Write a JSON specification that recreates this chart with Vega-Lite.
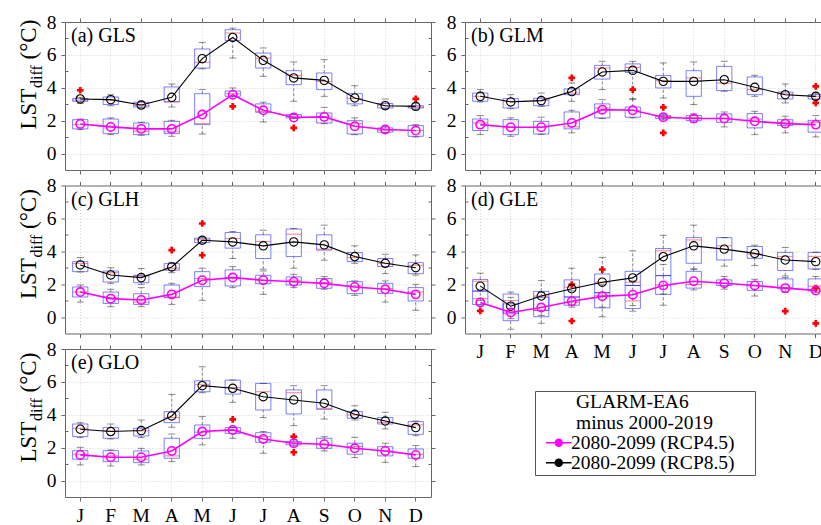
{
"$schema": "https://vega.github.io/schema/vega-lite/v6.json",
"padding": {"left": 16, "top": 11, "right": 0, "bottom": 0},
"background": "white",
"columns": 2,
"spacing": {"row": 15.5, "column": 34},
"bounds": "flush",
"resolve": {"legend": {"color": "independent"}},
"datasets": {
"box": [
{"p":"a","k":"2080-2099 (RCP8.5)","m":1,"q1":3.18,"q3":3.35,"md":3.25,"lo":3.05,"hi":3.42,"mn":3.32},
{"p":"a","k":"2080-2099 (RCP8.5)","m":2,"q1":2.98,"q3":3.44,"md":3.25,"lo":2.91,"hi":3.58,"mn":3.28},
{"p":"a","k":"2080-2099 (RCP8.5)","m":3,"q1":2.83,"q3":3.12,"md":2.92,"lo":2.77,"hi":3.18,"mn":2.95},
{"p":"a","k":"2080-2099 (RCP8.5)","m":4,"q1":3.14,"q3":4.05,"md":3.15,"lo":2.83,"hi":4.23,"mn":3.42},
{"p":"a","k":"2080-2099 (RCP8.5)","m":5,"q1":5.2,"q3":6.36,"md":5.55,"lo":5.15,"hi":6.76,"mn":5.77},
{"p":"a","k":"2080-2099 (RCP8.5)","m":6,"q1":6.88,"q3":7.53,"md":7.33,"lo":5.81,"hi":7.63,"mn":7.06},
{"p":"a","k":"2080-2099 (RCP8.5)","m":7,"q1":5.2,"q3":6.11,"md":5.81,"lo":4.7,"hi":6.42,"mn":5.67},
{"p":"a","k":"2080-2099 (RCP8.5)","m":8,"q1":4.19,"q3":5.04,"md":4.74,"lo":3.18,"hi":5.57,"mn":4.6},
{"p":"a","k":"2080-2099 (RCP8.5)","m":9,"q1":3.89,"q3":4.9,"md":4.39,"lo":3.48,"hi":5.71,"mn":4.45},
{"p":"a","k":"2080-2099 (RCP8.5)","m":10,"q1":3.02,"q3":3.64,"md":3.34,"lo":2.91,"hi":4.13,"mn":3.38},
{"p":"a","k":"2080-2099 (RCP8.5)","m":11,"q1":2.77,"q3":3.04,"md":2.91,"lo":2.73,"hi":3.32,"mn":2.91},
{"p":"a","k":"2080-2099 (RCP8.5)","m":12,"q1":2.77,"q3":2.91,"md":2.83,"lo":2.67,"hi":3.04,"mn":2.87},
{"p":"a","k":"2080-2099 (RCP4.5)","m":1,"q1":1.5,"q3":2.06,"md":1.76,"lo":1.46,"hi":2.1,"mn":1.8},
{"p":"a","k":"2080-2099 (RCP4.5)","m":2,"q1":1.21,"q3":2.1,"md":1.66,"lo":1.15,"hi":2.17,"mn":1.62},
{"p":"a","k":"2080-2099 (RCP4.5)","m":3,"q1":1.15,"q3":1.86,"md":1.36,"lo":1.11,"hi":1.9,"mn":1.5},
{"p":"a","k":"2080-2099 (RCP4.5)","m":4,"q1":1.21,"q3":1.96,"md":1.32,"lo":1.05,"hi":2.02,"mn":1.5},
{"p":"a","k":"2080-2099 (RCP4.5)","m":5,"q1":1.76,"q3":3.64,"md":1.82,"lo":1.19,"hi":3.89,"mn":2.37},
{"p":"a","k":"2080-2099 (RCP4.5)","m":6,"q1":3.48,"q3":3.8,"md":3.64,"lo":3.45,"hi":3.99,"mn":3.58},
{"p":"a","k":"2080-2099 (RCP4.5)","m":7,"q1":2.51,"q3":3.02,"md":2.57,"lo":1.92,"hi":3.12,"mn":2.63},
{"p":"a","k":"2080-2099 (RCP4.5)","m":8,"q1":2.17,"q3":2.37,"md":2.27,"lo":2.13,"hi":2.41,"mn":2.19},
{"p":"a","k":"2080-2099 (RCP4.5)","m":9,"q1":1.86,"q3":2.47,"md":2.23,"lo":1.82,"hi":2.81,"mn":2.23},
{"p":"a","k":"2080-2099 (RCP4.5)","m":10,"q1":1.19,"q3":2.0,"md":1.82,"lo":1.15,"hi":2.17,"mn":1.66},
{"p":"a","k":"2080-2099 (RCP4.5)","m":11,"q1":1.3,"q3":1.56,"md":1.42,"lo":1.26,"hi":1.66,"mn":1.46},
{"p":"a","k":"2080-2099 (RCP4.5)","m":12,"q1":1.05,"q3":1.7,"md":1.4,"lo":1.01,"hi":1.76,"mn":1.4},
{"p":"b","k":"2080-2099 (RCP8.5)","m":1,"q1":3.18,"q3":3.68,"md":3.48,"lo":3.14,"hi":3.89,"mn":3.48},
{"p":"b","k":"2080-2099 (RCP8.5)","m":2,"q1":2.77,"q3":3.34,"md":3.18,"lo":2.73,"hi":3.58,"mn":3.14},
{"p":"b","k":"2080-2099 (RCP8.5)","m":3,"q1":2.91,"q3":3.36,"md":3.22,"lo":2.87,"hi":3.68,"mn":3.22},
{"p":"b","k":"2080-2099 (RCP8.5)","m":4,"q1":3.58,"q3":3.93,"md":3.68,"lo":3.18,"hi":4.29,"mn":3.77},
{"p":"b","k":"2080-2099 (RCP8.5)","m":5,"q1":4.53,"q3":5.36,"md":5.2,"lo":3.89,"hi":5.61,"mn":4.96},
{"p":"b","k":"2080-2099 (RCP8.5)","m":6,"q1":4.94,"q3":5.45,"md":5.24,"lo":3.28,"hi":5.61,"mn":5.06},
{"p":"b","k":"2080-2099 (RCP8.5)","m":7,"q1":3.99,"q3":4.74,"md":4.43,"lo":3.38,"hi":5.51,"mn":4.39},
{"p":"b","k":"2080-2099 (RCP8.5)","m":8,"q1":3.48,"q3":5.04,"md":4.6,"lo":2.98,"hi":5.57,"mn":4.39},
{"p":"b","k":"2080-2099 (RCP8.5)","m":9,"q1":3.83,"q3":5.3,"md":4.29,"lo":3.79,"hi":5.61,"mn":4.49},
{"p":"b","k":"2080-2099 (RCP8.5)","m":10,"q1":3.58,"q3":4.66,"md":3.89,"lo":3.48,"hi":4.76,"mn":4.03},
{"p":"b","k":"2080-2099 (RCP8.5)","m":11,"q1":3.32,"q3":3.74,"md":3.62,"lo":3.08,"hi":4.23,"mn":3.58},
{"p":"b","k":"2080-2099 (RCP8.5)","m":12,"q1":3.32,"q3":3.58,"md":3.48,"lo":3.28,"hi":3.68,"mn":3.48},
{"p":"b","k":"2080-2099 (RCP4.5)","m":1,"q1":1.4,"q3":2.1,"md":1.86,"lo":1.15,"hi":2.31,"mn":1.76},
{"p":"b","k":"2080-2099 (RCP4.5)","m":2,"q1":1.15,"q3":2.06,"md":1.6,"lo":1.05,"hi":2.17,"mn":1.6},
{"p":"b","k":"2080-2099 (RCP4.5)","m":3,"q1":1.19,"q3":1.96,"md":1.6,"lo":1.17,"hi":2.21,"mn":1.6},
{"p":"b","k":"2080-2099 (RCP4.5)","m":4,"q1":1.5,"q3":2.53,"md":1.62,"lo":1.26,"hi":2.63,"mn":1.86},
{"p":"b","k":"2080-2099 (RCP4.5)","m":5,"q1":2.17,"q3":3.02,"md":2.77,"lo":2.13,"hi":3.28,"mn":2.67},
{"p":"b","k":"2080-2099 (RCP4.5)","m":6,"q1":2.21,"q3":2.83,"md":2.63,"lo":2.17,"hi":3.34,"mn":2.63},
{"p":"b","k":"2080-2099 (RCP4.5)","m":7,"q1":2.13,"q3":2.31,"md":2.25,"lo":2.06,"hi":2.37,"mn":2.21},
{"p":"b","k":"2080-2099 (RCP4.5)","m":8,"q1":2.0,"q3":2.31,"md":2.19,"lo":1.9,"hi":2.41,"mn":2.13},
{"p":"b","k":"2080-2099 (RCP4.5)","m":9,"q1":1.9,"q3":2.41,"md":2.15,"lo":1.62,"hi":2.53,"mn":2.13},
{"p":"b","k":"2080-2099 (RCP4.5)","m":10,"q1":1.56,"q3":2.43,"md":2.1,"lo":1.15,"hi":2.57,"mn":1.96},
{"p":"b","k":"2080-2099 (RCP4.5)","m":11,"q1":1.7,"q3":2.06,"md":1.9,"lo":1.26,"hi":2.27,"mn":1.82},
{"p":"b","k":"2080-2099 (RCP4.5)","m":12,"q1":1.3,"q3":2.02,"md":1.9,"lo":1.01,"hi":2.31,"mn":1.76},
{"p":"c","k":"2080-2099 (RCP8.5)","m":1,"q1":2.76,"q3":3.37,"md":3.25,"lo":2.74,"hi":3.62,"mn":3.17},
{"p":"c","k":"2080-2099 (RCP8.5)","m":2,"q1":2.13,"q3":2.8,"md":2.7,"lo":2.05,"hi":3.0,"mn":2.56},
{"p":"c","k":"2080-2099 (RCP8.5)","m":3,"q1":2.09,"q3":2.54,"md":2.5,"lo":1.99,"hi":2.95,"mn":2.4},
{"p":"c","k":"2080-2099 (RCP8.5)","m":4,"q1":2.85,"q3":3.25,"md":2.97,"lo":2.7,"hi":3.31,"mn":3.05},
{"p":"c","k":"2080-2099 (RCP8.5)","m":5,"q1":4.53,"q3":4.8,"md":4.7,"lo":4.5,"hi":4.82,"mn":4.67},
{"p":"c","k":"2080-2099 (RCP8.5)","m":6,"q1":4.19,"q3":5.14,"md":4.78,"lo":3.56,"hi":5.2,"mn":4.57},
{"p":"c","k":"2080-2099 (RCP8.5)","m":7,"q1":3.56,"q3":5.0,"md":4.59,"lo":2.91,"hi":5.28,"mn":4.33},
{"p":"c","k":"2080-2099 (RCP8.5)","m":8,"q1":3.68,"q3":5.35,"md":5.04,"lo":2.97,"hi":5.39,"mn":4.57},
{"p":"c","k":"2080-2099 (RCP8.5)","m":9,"q1":4.07,"q3":5.0,"md":4.13,"lo":3.46,"hi":5.59,"mn":4.39},
{"p":"c","k":"2080-2099 (RCP8.5)","m":10,"q1":3.37,"q3":3.92,"md":3.62,"lo":3.27,"hi":4.33,"mn":3.68},
{"p":"c","k":"2080-2099 (RCP8.5)","m":11,"q1":3.07,"q3":3.56,"md":3.27,"lo":2.64,"hi":3.82,"mn":3.27},
{"p":"c","k":"2080-2099 (RCP8.5)","m":12,"q1":2.64,"q3":3.31,"md":3.15,"lo":2.55,"hi":3.78,"mn":3.0},
{"p":"c","k":"2080-2099 (RCP4.5)","m":1,"q1":1.22,"q3":1.83,"md":1.52,"lo":0.91,"hi":1.95,"mn":1.52},
{"p":"c","k":"2080-2099 (RCP4.5)","m":2,"q1":0.83,"q3":1.52,"md":1.18,"lo":0.63,"hi":1.69,"mn":1.12},
{"p":"c","k":"2080-2099 (RCP4.5)","m":3,"q1":0.77,"q3":1.42,"md":0.91,"lo":0.63,"hi":1.79,"mn":1.04},
{"p":"c","k":"2080-2099 (RCP4.5)","m":4,"q1":1.18,"q3":1.95,"md":1.22,"lo":0.77,"hi":2.05,"mn":1.38},
{"p":"c","k":"2080-2099 (RCP4.5)","m":5,"q1":1.85,"q3":2.76,"md":2.34,"lo":1.02,"hi":2.97,"mn":2.24},
{"p":"c","k":"2080-2099 (RCP4.5)","m":6,"q1":1.89,"q3":2.87,"md":2.4,"lo":1.79,"hi":3.07,"mn":2.4},
{"p":"c","k":"2080-2099 (RCP4.5)","m":7,"q1":2.03,"q3":2.54,"md":2.24,"lo":1.38,"hi":2.8,"mn":2.24},
{"p":"c","k":"2080-2099 (RCP4.5)","m":8,"q1":1.95,"q3":2.44,"md":2.24,"lo":1.79,"hi":2.6,"mn":2.15},
{"p":"c","k":"2080-2099 (RCP4.5)","m":9,"q1":1.75,"q3":2.34,"md":2.09,"lo":1.69,"hi":2.46,"mn":2.05},
{"p":"c","k":"2080-2099 (RCP4.5)","m":10,"q1":1.42,"q3":2.15,"md":1.89,"lo":1.32,"hi":2.2,"mn":1.83},
{"p":"c","k":"2080-2099 (RCP4.5)","m":11,"q1":1.44,"q3":2.05,"md":1.73,"lo":0.91,"hi":2.2,"mn":1.69},
{"p":"c","k":"2080-2099 (RCP4.5)","m":12,"q1":0.98,"q3":1.79,"md":1.52,"lo":0.41,"hi":1.99,"mn":1.38},
{"p":"d","k":"2080-2099 (RCP8.5)","m":1,"q1":1.58,"q3":2.28,"md":2.18,"lo":1.0,"hi":2.67,"mn":1.88},
{"p":"d","k":"2080-2099 (RCP8.5)","m":2,"q1":0.2,"q3":1.4,"md":1.0,"lo":-0.1,"hi":1.52,"mn":0.66},
{"p":"d","k":"2080-2099 (RCP8.5)","m":3,"q1":0.4,"q3":1.56,"md":1.28,"lo":0.1,"hi":2.22,"mn":1.28},
{"p":"d","k":"2080-2099 (RCP8.5)","m":4,"q1":1.22,"q3":2.26,"md":1.82,"lo":0.72,"hi":2.97,"mn":1.72},
{"p":"d","k":"2080-2099 (RCP8.5)","m":5,"q1":1.48,"q3":2.62,"md":2.12,"lo":0.6,"hi":3.63,"mn":2.12},
{"p":"d","k":"2080-2099 (RCP8.5)","m":6,"q1":1.92,"q3":2.78,"md":2.12,"lo":0.7,"hi":4.03,"mn":2.38},
{"p":"d","k":"2080-2099 (RCP8.5)","m":7,"q1":2.52,"q3":4.17,"md":4.03,"lo":1.4,"hi":4.97,"mn":3.67},
{"p":"d","k":"2080-2099 (RCP8.5)","m":8,"q1":3.27,"q3":4.83,"md":4.69,"lo":2.93,"hi":5.59,"mn":4.33},
{"p":"d","k":"2080-2099 (RCP8.5)","m":9,"q1":3.47,"q3":4.83,"md":4.33,"lo":3.1,"hi":4.83,"mn":4.13},
{"p":"d","k":"2080-2099 (RCP8.5)","m":10,"q1":3.57,"q3":4.29,"md":3.83,"lo":3.13,"hi":4.37,"mn":3.87},
{"p":"d","k":"2080-2099 (RCP8.5)","m":11,"q1":2.83,"q3":3.93,"md":3.69,"lo":2.5,"hi":4.23,"mn":3.47},
{"p":"d","k":"2080-2099 (RCP8.5)","m":12,"q1":2.93,"q3":3.93,"md":3.69,"lo":2.9,"hi":3.95,"mn":3.37},
{"p":"d","k":"2080-2099 (RCP4.5)","m":1,"q1":0.76,"q3":1.58,"md":1.12,"lo":0.72,"hi":1.6,"mn":0.88},
{"p":"d","k":"2080-2099 (RCP4.5)","m":2,"q1":-0.22,"q3":0.8,"md":0.3,"lo":-0.74,"hi":1.2,"mn":0.28},
{"p":"d","k":"2080-2099 (RCP4.5)","m":3,"q1":0.02,"q3":1.2,"md":0.42,"lo":-0.38,"hi":1.5,"mn":0.58},
{"p":"d","k":"2080-2099 (RCP4.5)","m":4,"q1":0.72,"q3":1.22,"md":0.9,"lo":0.6,"hi":1.6,"mn":0.96},
{"p":"d","k":"2080-2099 (RCP4.5)","m":5,"q1":0.56,"q3":1.48,"md":1.3,"lo":0.02,"hi":2.0,"mn":1.26},
{"p":"d","k":"2080-2099 (RCP4.5)","m":6,"q1":0.52,"q3":1.92,"md":0.98,"lo":0.36,"hi":2.2,"mn":1.36},
{"p":"d","k":"2080-2099 (RCP4.5)","m":7,"q1":1.38,"q3":2.52,"md":1.95,"lo":0.72,"hi":3.2,"mn":1.92},
{"p":"d","k":"2080-2099 (RCP4.5)","m":8,"q1":1.76,"q3":2.78,"md":1.98,"lo":1.65,"hi":2.9,"mn":2.18},
{"p":"d","k":"2080-2099 (RCP4.5)","m":9,"q1":1.92,"q3":2.26,"md":2.05,"lo":1.7,"hi":2.47,"mn":2.06},
{"p":"d","k":"2080-2099 (RCP4.5)","m":10,"q1":1.62,"q3":2.16,"md":1.9,"lo":1.28,"hi":2.3,"mn":1.92},
{"p":"d","k":"2080-2099 (RCP4.5)","m":11,"q1":1.72,"q3":2.32,"md":1.8,"lo":1.5,"hi":2.4,"mn":1.76},
{"p":"d","k":"2080-2099 (RCP4.5)","m":12,"q1":1.58,"q3":2.32,"md":1.88,"lo":1.5,"hi":2.47,"mn":1.62},
{"p":"e","k":"2080-2099 (RCP8.5)","m":1,"q1":2.67,"q3":3.44,"md":3.18,"lo":2.61,"hi":3.52,"mn":3.12},
{"p":"e","k":"2080-2099 (RCP8.5)","m":2,"q1":2.57,"q3":3.22,"md":3.02,"lo":2.53,"hi":3.44,"mn":2.98},
{"p":"e","k":"2080-2099 (RCP8.5)","m":3,"q1":2.71,"q3":3.18,"md":3.02,"lo":2.61,"hi":3.68,"mn":3.04},
{"p":"e","k":"2080-2099 (RCP8.5)","m":4,"q1":3.52,"q3":4.19,"md":3.83,"lo":3.24,"hi":5.24,"mn":3.93},
{"p":"e","k":"2080-2099 (RCP8.5)","m":5,"q1":5.4,"q3":6.07,"md":5.85,"lo":5.34,"hi":6.92,"mn":5.77},
{"p":"e","k":"2080-2099 (RCP8.5)","m":6,"q1":5.26,"q3":6.11,"md":5.65,"lo":4.76,"hi":6.11,"mn":5.61},
{"p":"e","k":"2080-2099 (RCP8.5)","m":7,"q1":4.29,"q3":5.91,"md":5.4,"lo":3.83,"hi":5.91,"mn":5.1},
{"p":"e","k":"2080-2099 (RCP8.5)","m":8,"q1":4.05,"q3":5.51,"md":5.34,"lo":3.34,"hi":5.77,"mn":4.9},
{"p":"e","k":"2080-2099 (RCP8.5)","m":9,"q1":4.33,"q3":5.51,"md":4.39,"lo":3.74,"hi":5.77,"mn":4.7},
{"p":"e","k":"2080-2099 (RCP8.5)","m":10,"q1":3.79,"q3":4.19,"md":3.99,"lo":3.68,"hi":4.55,"mn":4.03},
{"p":"e","k":"2080-2099 (RCP8.5)","m":11,"q1":3.44,"q3":3.83,"md":3.54,"lo":3.14,"hi":4.15,"mn":3.62},
{"p":"e","k":"2080-2099 (RCP8.5)","m":12,"q1":2.81,"q3":3.58,"md":3.38,"lo":2.73,"hi":3.62,"mn":3.22},
{"p":"e","k":"2080-2099 (RCP4.5)","m":1,"q1":1.3,"q3":1.82,"md":1.6,"lo":0.95,"hi":2.02,"mn":1.56},
{"p":"e","k":"2080-2099 (RCP4.5)","m":2,"q1":1.15,"q3":1.82,"md":1.5,"lo":0.89,"hi":1.86,"mn":1.42},
{"p":"e","k":"2080-2099 (RCP4.5)","m":3,"q1":1.09,"q3":1.8,"md":1.3,"lo":0.95,"hi":1.96,"mn":1.42},
{"p":"e","k":"2080-2099 (RCP4.5)","m":4,"q1":1.36,"q3":2.57,"md":1.5,"lo":1.15,"hi":2.83,"mn":1.8},
{"p":"e","k":"2080-2099 (RCP4.5)","m":5,"q1":2.57,"q3":3.38,"md":2.94,"lo":2.17,"hi":3.89,"mn":2.98},
{"p":"e","k":"2080-2099 (RCP4.5)","m":6,"q1":2.87,"q3":3.22,"md":3.06,"lo":2.57,"hi":3.22,"mn":3.08},
{"p":"e","k":"2080-2099 (RCP4.5)","m":7,"q1":2.33,"q3":2.91,"md":2.67,"lo":1.66,"hi":2.98,"mn":2.53},
{"p":"e","k":"2080-2099 (RCP4.5)","m":8,"q1":2.17,"q3":2.37,"md":2.29,"lo":2.1,"hi":2.47,"mn":2.27},
{"p":"e","k":"2080-2099 (RCP4.5)","m":9,"q1":1.96,"q3":2.57,"md":2.17,"lo":1.8,"hi":2.67,"mn":2.21},
{"p":"e","k":"2080-2099 (RCP4.5)","m":10,"q1":1.6,"q3":2.27,"md":2.06,"lo":1.4,"hi":2.63,"mn":1.96},
{"p":"e","k":"2080-2099 (RCP4.5)","m":11,"q1":1.5,"q3":2.06,"md":1.8,"lo":1.11,"hi":2.27,"mn":1.8},
{"p":"e","k":"2080-2099 (RCP4.5)","m":12,"q1":1.36,"q3":1.92,"md":1.6,"lo":0.85,"hi":2.13,"mn":1.56}
],
"out": [
{"p":"a","m":1,"v":3.85},{"p":"a","m":12,"v":3.32},{"p":"a","m":6,"v":2.87},{"p":"a","m":8,"v":1.56},
{"p":"b","m":4,"v":4.6},{"p":"b","m":6,"v":3.89},{"p":"b","m":7,"v":2.81},{"p":"b","m":7,"v":1.26},{"p":"b","m":12,"v":4.09},{"p":"b","m":12,"v":3.08},
{"p":"c","m":4,"v":4.07},{"p":"c","m":5,"v":5.69},{"p":"c","m":5,"v":3.76},
{"p":"d","m":1,"v":0.38},{"p":"d","m":4,"v":1.98},{"p":"d","m":4,"v":-0.24},{"p":"d","m":5,"v":2.89},{"p":"d","m":11,"v":0.36},{"p":"d","m":12,"v":1.76},{"p":"d","m":12,"v":-0.38},
{"p":"e","m":6,"v":3.72},{"p":"e","m":8,"v":2.67},{"p":"e","m":8,"v":1.72}
]
},
"concat": [
{"width":366,"height":148,
"title":{"text":"(a) GLS","frame":"group","anchor":"start","offset":-50,"dx":6,"baseline":"alphabetic","font":"Liberation Serif","fontSize":20,"fontWeight":"normal","color":"#000"},
"resolve":{"axis":{"x":"independent","y":"independent"}},
"layer":[
{"data":{"name":"box"},"transform":[{"filter":"datum.p=='a'"}],"mark":{"type":"bar","width":{"band":0.5},"fillOpacity":0,"stroke":"#0000ff","strokeOpacity":0.5,"strokeWidth":1},
"encoding":{"x":{"field":"m","type":"ordinal","scale":{"domain":[1,2,3,4,5,6,7,8,9,10,11,12],"paddingInner":0,"paddingOuter":0},"axis":{"orient":"bottom","title":null,"labels":false,"tickSize":4,"grid":true,"bandPosition":0.5}},
"y":{"field":"q1","type":"quantitative","scale":{"domain":[-1,8],"nice":false,"zero":false},"axis":{"orient":"left","values":[0,2,4,6,8],"tickSize":4,"labelPadding":5,"grid":true,"gridOpacity":{"condition":{"test":"datum.value == 8","value":0},"value":1},"title":"LST","titleX":-30,"titleY":107,"titleAngle":270,"titleAlign":"left","titleBaseline":"alphabetic","titleFontSize":23}},"y2":{"field":"q3"}}},
{"data":{"name":"box"},"transform":[{"filter":"datum.p=='a'"}],"mark":{"type":"rule","strokeDash":[3,2],"color":"#000","opacity":0.45},
"encoding":{"x":{"field":"m","type":"ordinal","axis":{"orient":"top","title":null,"labels":false,"tickSize":4,"grid":false,"bandPosition":0.5}},
"y":{"field":"lo","type":"quantitative","axis":{"orient":"left","values":[1,3,5,7],"tickSize":-3,"labels":false,"grid":false,"title":"diff","titleX":-24,"titleY":65.5,"titleAngle":270,"titleAlign":"left","titleBaseline":"alphabetic","titleFontSize":16}},"y2":{"field":"q1"}}},
{"data":{"name":"box"},"transform":[{"filter":"datum.p=='a'"}],"mark":{"type":"rule","strokeDash":[3,2],"color":"#000","opacity":0.45},
"encoding":{"x":{"field":"m","type":"ordinal","axis":null},
"y":{"field":"q3","type":"quantitative","axis":{"orient":"right","values":[0,2,4,6,8],"tickSize":4,"labels":false,"grid":false,"title":null}},"y2":{"field":"hi"}}},
{"data":{"name":"box"},"transform":[{"filter":"datum.p=='a'"}],"mark":{"type":"tick","size":7,"thickness":1,"color":"#000","opacity":0.45},
"encoding":{"x":{"field":"m","type":"ordinal","axis":null},
"y":{"field":"lo","type":"quantitative","axis":{"orient":"left","ticks":false,"labels":false,"grid":false,"title":"(°C)","titleX":-30,"titleY":37,"titleAngle":270,"titleAlign":"left","titleBaseline":"alphabetic","titleFontSize":23}}}},
{"data":{"name":"box"},"transform":[{"filter":"datum.p=='a'"}],"mark":{"type":"tick","size":7,"thickness":1,"color":"#000","opacity":0.45},
"encoding":{"x":{"field":"m","type":"ordinal","axis":null},
"y":{"field":"hi","type":"quantitative","axis":{"orient":"right","values":[1,3,5,7],"tickSize":-3,"labels":false,"grid":false,"title":null}}}},
{"data":{"name":"box"},"transform":[{"filter":"datum.p=='a'"}],"mark":{"type":"tick","size":15,"thickness":1,"color":"#ff0000","opacity":0.5},
"encoding":{"x":{"field":"m","type":"ordinal","axis":null},"y":{"field":"md","type":"quantitative","axis":null}}},
{"data":{"name":"out"},"transform":[{"filter":"datum.p=='a'"}],"mark":{"type":"point","shape":"cross","filled":true,"color":"#ff0000","size":45,"opacity":1},
"encoding":{"x":{"field":"m","type":"ordinal","axis":null},"y":{"field":"v","type":"quantitative","axis":null}}},
{"data":{"name":"box"},"transform":[{"filter":"datum.p=='a'"}],"mark":{"type":"line","point":{"filled":false,"size":70}},
"encoding":{"x":{"field":"m","type":"ordinal","axis":null},"y":{"field":"mn","type":"quantitative","axis":null},
"strokeWidth":{"condition":{"test":"datum.k == '2080-2099 (RCP4.5)'","value":1.6},"value":1.1},
"color":{"field":"k","type":"nominal","scale":{"domain":["2080-2099 (RCP4.5)","2080-2099 (RCP8.5)"],"range":["#ff00ff","#000000"]},"legend":null}}}
]},
{"width":366,"height":148,
"title":{"text":"(b) GLM","frame":"group","anchor":"start","offset":-50,"dx":6,"baseline":"alphabetic","font":"Liberation Serif","fontSize":20,"fontWeight":"normal","color":"#000"},
"resolve":{"axis":{"x":"independent","y":"independent"}},
"layer":[
{"data":{"name":"box"},"transform":[{"filter":"datum.p=='b'"}],"mark":{"type":"bar","width":{"band":0.5},"fillOpacity":0,"stroke":"#0000ff","strokeOpacity":0.5,"strokeWidth":1},
"encoding":{"x":{"field":"m","type":"ordinal","scale":{"domain":[1,2,3,4,5,6,7,8,9,10,11,12],"paddingInner":0,"paddingOuter":0},"axis":{"orient":"bottom","title":null,"labels":false,"tickSize":4,"grid":true,"bandPosition":0.5}},
"y":{"field":"q1","type":"quantitative","scale":{"domain":[-1,8],"nice":false,"zero":false},"axis":{"orient":"left","values":[0,2,4,6,8],"tickSize":4,"labelPadding":5,"grid":true,"gridOpacity":{"condition":{"test":"datum.value == 8","value":0},"value":1},"title":null}},"y2":{"field":"q3"}}},
{"data":{"name":"box"},"transform":[{"filter":"datum.p=='b'"}],"mark":{"type":"rule","strokeDash":[3,2],"color":"#000","opacity":0.45},
"encoding":{"x":{"field":"m","type":"ordinal","axis":{"orient":"top","title":null,"labels":false,"tickSize":4,"grid":false,"bandPosition":0.5}},
"y":{"field":"lo","type":"quantitative","axis":{"orient":"left","values":[1,3,5,7],"tickSize":-3,"labels":false,"grid":false,"title":null}},"y2":{"field":"q1"}}},
{"data":{"name":"box"},"transform":[{"filter":"datum.p=='b'"}],"mark":{"type":"rule","strokeDash":[3,2],"color":"#000","opacity":0.45},
"encoding":{"x":{"field":"m","type":"ordinal","axis":null},
"y":{"field":"q3","type":"quantitative","axis":{"orient":"right","values":[0,2,4,6,8],"tickSize":4,"labels":false,"grid":false,"title":null}},"y2":{"field":"hi"}}},
{"data":{"name":"box"},"transform":[{"filter":"datum.p=='b'"}],"mark":{"type":"tick","size":7,"thickness":1,"color":"#000","opacity":0.45},
"encoding":{"x":{"field":"m","type":"ordinal","axis":null},"y":{"field":"lo","type":"quantitative","axis":null}}},
{"data":{"name":"box"},"transform":[{"filter":"datum.p=='b'"}],"mark":{"type":"tick","size":7,"thickness":1,"color":"#000","opacity":0.45},
"encoding":{"x":{"field":"m","type":"ordinal","axis":null},
"y":{"field":"hi","type":"quantitative","axis":{"orient":"right","values":[1,3,5,7],"tickSize":-3,"labels":false,"grid":false,"title":null}}}},
{"data":{"name":"box"},"transform":[{"filter":"datum.p=='b'"}],"mark":{"type":"tick","size":15,"thickness":1,"color":"#ff0000","opacity":0.5},
"encoding":{"x":{"field":"m","type":"ordinal","axis":null},"y":{"field":"md","type":"quantitative","axis":null}}},
{"data":{"name":"out"},"transform":[{"filter":"datum.p=='b'"}],"mark":{"type":"point","shape":"cross","filled":true,"color":"#ff0000","size":45,"opacity":1},
"encoding":{"x":{"field":"m","type":"ordinal","axis":null},"y":{"field":"v","type":"quantitative","axis":null}}},
{"data":{"name":"box"},"transform":[{"filter":"datum.p=='b'"}],"mark":{"type":"line","point":{"filled":false,"size":70}},
"encoding":{"x":{"field":"m","type":"ordinal","axis":null},"y":{"field":"mn","type":"quantitative","axis":null},
"strokeWidth":{"condition":{"test":"datum.k == '2080-2099 (RCP4.5)'","value":1.6},"value":1.1},
"color":{"field":"k","type":"nominal","scale":{"domain":["2080-2099 (RCP4.5)","2080-2099 (RCP8.5)"],"range":["#ff00ff","#000000"]},"legend":null}}}
]},
{"width":366,"height":148,
"title":{"text":"(c) GLH","frame":"group","anchor":"start","offset":-50,"dx":6,"baseline":"alphabetic","font":"Liberation Serif","fontSize":20,"fontWeight":"normal","color":"#000"},
"resolve":{"axis":{"x":"independent","y":"independent"}},
"layer":[
{"data":{"name":"box"},"transform":[{"filter":"datum.p=='c'"}],"mark":{"type":"bar","width":{"band":0.5},"fillOpacity":0,"stroke":"#0000ff","strokeOpacity":0.5,"strokeWidth":1},
"encoding":{"x":{"field":"m","type":"ordinal","scale":{"domain":[1,2,3,4,5,6,7,8,9,10,11,12],"paddingInner":0,"paddingOuter":0},"axis":{"orient":"bottom","title":null,"labels":false,"tickSize":4,"grid":true,"bandPosition":0.5}},
"y":{"field":"q1","type":"quantitative","scale":{"domain":[-1,8],"nice":false,"zero":false},"axis":{"orient":"left","values":[0,2,4,6,8],"tickSize":4,"labelPadding":5,"grid":true,"gridOpacity":{"condition":{"test":"datum.value == 8","value":0},"value":1},"title":"LST","titleX":-30,"titleY":113,"titleAngle":270,"titleAlign":"left","titleBaseline":"alphabetic","titleFontSize":23}},"y2":{"field":"q3"}}},
{"data":{"name":"box"},"transform":[{"filter":"datum.p=='c'"}],"mark":{"type":"rule","strokeDash":[3,2],"color":"#000","opacity":0.45},
"encoding":{"x":{"field":"m","type":"ordinal","axis":{"orient":"top","title":null,"labels":false,"tickSize":4,"grid":false,"bandPosition":0.5}},
"y":{"field":"lo","type":"quantitative","axis":{"orient":"left","values":[1,3,5,7],"tickSize":-3,"labels":false,"grid":false,"title":"diff","titleX":-24,"titleY":71.5,"titleAngle":270,"titleAlign":"left","titleBaseline":"alphabetic","titleFontSize":16}},"y2":{"field":"q1"}}},
{"data":{"name":"box"},"transform":[{"filter":"datum.p=='c'"}],"mark":{"type":"rule","strokeDash":[3,2],"color":"#000","opacity":0.45},
"encoding":{"x":{"field":"m","type":"ordinal","axis":null},
"y":{"field":"q3","type":"quantitative","axis":{"orient":"right","values":[0,2,4,6,8],"tickSize":4,"labels":false,"grid":false,"title":null}},"y2":{"field":"hi"}}},
{"data":{"name":"box"},"transform":[{"filter":"datum.p=='c'"}],"mark":{"type":"tick","size":7,"thickness":1,"color":"#000","opacity":0.45},
"encoding":{"x":{"field":"m","type":"ordinal","axis":null},
"y":{"field":"lo","type":"quantitative","axis":{"orient":"left","ticks":false,"labels":false,"grid":false,"title":"(°C)","titleX":-30,"titleY":43,"titleAngle":270,"titleAlign":"left","titleBaseline":"alphabetic","titleFontSize":23}}}},
{"data":{"name":"box"},"transform":[{"filter":"datum.p=='c'"}],"mark":{"type":"tick","size":7,"thickness":1,"color":"#000","opacity":0.45},
"encoding":{"x":{"field":"m","type":"ordinal","axis":null},
"y":{"field":"hi","type":"quantitative","axis":{"orient":"right","values":[1,3,5,7],"tickSize":-3,"labels":false,"grid":false,"title":null}}}},
{"data":{"name":"box"},"transform":[{"filter":"datum.p=='c'"}],"mark":{"type":"tick","size":15,"thickness":1,"color":"#ff0000","opacity":0.5},
"encoding":{"x":{"field":"m","type":"ordinal","axis":null},"y":{"field":"md","type":"quantitative","axis":null}}},
{"data":{"name":"out"},"transform":[{"filter":"datum.p=='c'"}],"mark":{"type":"point","shape":"cross","filled":true,"color":"#ff0000","size":45,"opacity":1},
"encoding":{"x":{"field":"m","type":"ordinal","axis":null},"y":{"field":"v","type":"quantitative","axis":null}}},
{"data":{"name":"box"},"transform":[{"filter":"datum.p=='c'"}],"mark":{"type":"line","point":{"filled":false,"size":70}},
"encoding":{"x":{"field":"m","type":"ordinal","axis":null},"y":{"field":"mn","type":"quantitative","axis":null},
"strokeWidth":{"condition":{"test":"datum.k == '2080-2099 (RCP4.5)'","value":1.6},"value":1.1},
"color":{"field":"k","type":"nominal","scale":{"domain":["2080-2099 (RCP4.5)","2080-2099 (RCP8.5)"],"range":["#ff00ff","#000000"]},"legend":null}}}
]},
{"width":366,"height":148,
"title":{"text":"(d) GLE","frame":"group","anchor":"start","offset":-50,"dx":6,"baseline":"alphabetic","font":"Liberation Serif","fontSize":20,"fontWeight":"normal","color":"#000"},
"resolve":{"axis":{"x":"independent","y":"independent"}},
"layer":[
{"data":{"name":"box"},"transform":[{"filter":"datum.p=='d'"}],"mark":{"type":"bar","width":{"band":0.5},"fillOpacity":0,"stroke":"#0000ff","strokeOpacity":0.5,"strokeWidth":1},
"encoding":{"x":{"field":"m","type":"ordinal","scale":{"domain":[1,2,3,4,5,6,7,8,9,10,11,12],"paddingInner":0,"paddingOuter":0},"axis":{"orient":"bottom","title":null,"labels":true,"labelAngle":0,"labelPadding":5,"labelExpr":"['J','F','M','A','M','J','J','A','S','O','N','D'][datum.value-1]","tickSize":4,"grid":true,"bandPosition":0.5}},
"y":{"field":"q1","type":"quantitative","scale":{"domain":[-1,8],"nice":false,"zero":false},"axis":{"orient":"left","values":[0,2,4,6,8],"tickSize":4,"labelPadding":5,"grid":true,"gridOpacity":{"condition":{"test":"datum.value == 8","value":0},"value":1},"title":null}},"y2":{"field":"q3"}}},
{"data":{"name":"box"},"transform":[{"filter":"datum.p=='d'"}],"mark":{"type":"rule","strokeDash":[3,2],"color":"#000","opacity":0.45},
"encoding":{"x":{"field":"m","type":"ordinal","axis":{"orient":"top","title":null,"labels":false,"tickSize":4,"grid":false,"bandPosition":0.5}},
"y":{"field":"lo","type":"quantitative","axis":{"orient":"left","values":[1,3,5,7],"tickSize":-3,"labels":false,"grid":false,"title":null}},"y2":{"field":"q1"}}},
{"data":{"name":"box"},"transform":[{"filter":"datum.p=='d'"}],"mark":{"type":"rule","strokeDash":[3,2],"color":"#000","opacity":0.45},
"encoding":{"x":{"field":"m","type":"ordinal","axis":null},
"y":{"field":"q3","type":"quantitative","axis":{"orient":"right","values":[0,2,4,6,8],"tickSize":4,"labels":false,"grid":false,"title":null}},"y2":{"field":"hi"}}},
{"data":{"name":"box"},"transform":[{"filter":"datum.p=='d'"}],"mark":{"type":"tick","size":7,"thickness":1,"color":"#000","opacity":0.45},
"encoding":{"x":{"field":"m","type":"ordinal","axis":null},"y":{"field":"lo","type":"quantitative","axis":null}}},
{"data":{"name":"box"},"transform":[{"filter":"datum.p=='d'"}],"mark":{"type":"tick","size":7,"thickness":1,"color":"#000","opacity":0.45},
"encoding":{"x":{"field":"m","type":"ordinal","axis":null},
"y":{"field":"hi","type":"quantitative","axis":{"orient":"right","values":[1,3,5,7],"tickSize":-3,"labels":false,"grid":false,"title":null}}}},
{"data":{"name":"box"},"transform":[{"filter":"datum.p=='d'"}],"mark":{"type":"tick","size":15,"thickness":1,"color":"#ff0000","opacity":0.5},
"encoding":{"x":{"field":"m","type":"ordinal","axis":null},"y":{"field":"md","type":"quantitative","axis":null}}},
{"data":{"name":"out"},"transform":[{"filter":"datum.p=='d'"}],"mark":{"type":"point","shape":"cross","filled":true,"color":"#ff0000","size":45,"opacity":1},
"encoding":{"x":{"field":"m","type":"ordinal","axis":null},"y":{"field":"v","type":"quantitative","axis":null}}},
{"data":{"name":"box"},"transform":[{"filter":"datum.p=='d'"}],"mark":{"type":"line","point":{"filled":false,"size":70}},
"encoding":{"x":{"field":"m","type":"ordinal","axis":null},"y":{"field":"mn","type":"quantitative","axis":null},
"strokeWidth":{"condition":{"test":"datum.k == '2080-2099 (RCP4.5)'","value":1.6},"value":1.1},
"color":{"field":"k","type":"nominal","scale":{"domain":["2080-2099 (RCP4.5)","2080-2099 (RCP8.5)"],"range":["#ff00ff","#000000"]},"legend":null}}}
]},
{"width":366,"height":148,
"title":{"text":"(e) GLO","frame":"group","anchor":"start","offset":-50,"dx":6,"baseline":"alphabetic","font":"Liberation Serif","fontSize":20,"fontWeight":"normal","color":"#000"},
"resolve":{"axis":{"x":"independent","y":"independent"}},
"layer":[
{"data":{"name":"box"},"transform":[{"filter":"datum.p=='e'"}],"mark":{"type":"bar","width":{"band":0.5},"fillOpacity":0,"stroke":"#0000ff","strokeOpacity":0.5,"strokeWidth":1},
"encoding":{"x":{"field":"m","type":"ordinal","scale":{"domain":[1,2,3,4,5,6,7,8,9,10,11,12],"paddingInner":0,"paddingOuter":0},"axis":{"orient":"bottom","title":null,"labels":true,"labelAngle":0,"labelPadding":5,"labelExpr":"['J','F','M','A','M','J','J','A','S','O','N','D'][datum.value-1]","tickSize":4,"grid":true,"bandPosition":0.5}},
"y":{"field":"q1","type":"quantitative","scale":{"domain":[-1,8],"nice":false,"zero":false},"axis":{"orient":"left","values":[0,2,4,6,8],"tickSize":4,"labelPadding":5,"grid":true,"gridOpacity":{"condition":{"test":"datum.value == 8","value":0},"value":1},"title":"LST","titleX":-30,"titleY":113,"titleAngle":270,"titleAlign":"left","titleBaseline":"alphabetic","titleFontSize":23}},"y2":{"field":"q3"}}},
{"data":{"name":"box"},"transform":[{"filter":"datum.p=='e'"}],"mark":{"type":"rule","strokeDash":[3,2],"color":"#000","opacity":0.45},
"encoding":{"x":{"field":"m","type":"ordinal","axis":{"orient":"top","title":null,"labels":false,"tickSize":4,"grid":false,"bandPosition":0.5}},
"y":{"field":"lo","type":"quantitative","axis":{"orient":"left","values":[1,3,5,7],"tickSize":-3,"labels":false,"grid":false,"title":"diff","titleX":-24,"titleY":71.5,"titleAngle":270,"titleAlign":"left","titleBaseline":"alphabetic","titleFontSize":16}},"y2":{"field":"q1"}}},
{"data":{"name":"box"},"transform":[{"filter":"datum.p=='e'"}],"mark":{"type":"rule","strokeDash":[3,2],"color":"#000","opacity":0.45},
"encoding":{"x":{"field":"m","type":"ordinal","axis":null},
"y":{"field":"q3","type":"quantitative","axis":{"orient":"right","values":[0,2,4,6,8],"tickSize":4,"labels":false,"grid":false,"title":null}},"y2":{"field":"hi"}}},
{"data":{"name":"box"},"transform":[{"filter":"datum.p=='e'"}],"mark":{"type":"tick","size":7,"thickness":1,"color":"#000","opacity":0.45},
"encoding":{"x":{"field":"m","type":"ordinal","axis":null},
"y":{"field":"lo","type":"quantitative","axis":{"orient":"left","ticks":false,"labels":false,"grid":false,"title":"(°C)","titleX":-30,"titleY":43,"titleAngle":270,"titleAlign":"left","titleBaseline":"alphabetic","titleFontSize":23}}}},
{"data":{"name":"box"},"transform":[{"filter":"datum.p=='e'"}],"mark":{"type":"tick","size":7,"thickness":1,"color":"#000","opacity":0.45},
"encoding":{"x":{"field":"m","type":"ordinal","axis":null},
"y":{"field":"hi","type":"quantitative","axis":{"orient":"right","values":[1,3,5,7],"tickSize":-3,"labels":false,"grid":false,"title":null}}}},
{"data":{"name":"box"},"transform":[{"filter":"datum.p=='e'"}],"mark":{"type":"tick","size":15,"thickness":1,"color":"#ff0000","opacity":0.5},
"encoding":{"x":{"field":"m","type":"ordinal","axis":null},"y":{"field":"md","type":"quantitative","axis":null}}},
{"data":{"name":"out"},"transform":[{"filter":"datum.p=='e'"}],"mark":{"type":"point","shape":"cross","filled":true,"color":"#ff0000","size":45,"opacity":1},
"encoding":{"x":{"field":"m","type":"ordinal","axis":null},"y":{"field":"v","type":"quantitative","axis":null}}},
{"data":{"name":"box"},"transform":[{"filter":"datum.p=='e'"}],"mark":{"type":"line","point":{"filled":false,"size":70}},
"encoding":{"x":{"field":"m","type":"ordinal","axis":null},"y":{"field":"mn","type":"quantitative","axis":null},
"strokeWidth":{"condition":{"test":"datum.k == '2080-2099 (RCP4.5)'","value":1.6},"value":1.1},
"color":{"field":"k","type":"nominal","scale":{"domain":["2080-2099 (RCP4.5)","2080-2099 (RCP8.5)"],"range":["#ff00ff","#000000"]},
"legend":{"orient":"none","legendX":470,"legendY":42,"title":["\u200b\u00a0\u00a0\u00a0\u00a0\u00a0\u00a0\u00a0\u00a0GLARM-EA6","\u200b\u00a0\u00a0\u00a0\u00a0\u00a0\u00a0\u00a0\u00a0minus 2000-2019\u00a0\u00a0\u00a0\u00a0\u00a0\u00a0\u00a0\u00a0\u200b"],"titleFont":"Liberation Serif","titleFontSize":19.5,"titleFontWeight":"normal","titleColor":"#000","titleLineHeight":20.5,"titlePadding":0,"titleLimit":600,"labelFont":"Liberation Serif","labelFontSize":19.5,"labelColor":"#000","labelLimit":600,"labelOffset":2.5,"symbolType":"M-1.6,0H1.6M-0.44,0A0.44,0.44,0,1,0,0.44,0A0.44,0.44,0,1,0,-0.44,0Z","symbolSize":256,"symbolStrokeWidth":1.5,"symbolOffset":12,"padding":2,"strokeColor":"#555","fillColor":"#fff","rowPadding":-1.5,"cornerRadius":0,
"encode":{"symbols":{"update":{"fill":{"field":"value","scale":"color"}}}}}}}}
]}
],
"config":{
"view":{"stroke":"#666","strokeWidth":1},
"axis":{"domain":false,"labelFont":"Liberation Serif","labelFontSize":19.5,"labelColor":"#000","tickColor":"#666","titleFont":"Liberation Serif","titleFontWeight":"normal","titleColor":"#000","gridColor":"#d4d4d4","gridDash":[1,2],"gridWidth":1}
}
}
